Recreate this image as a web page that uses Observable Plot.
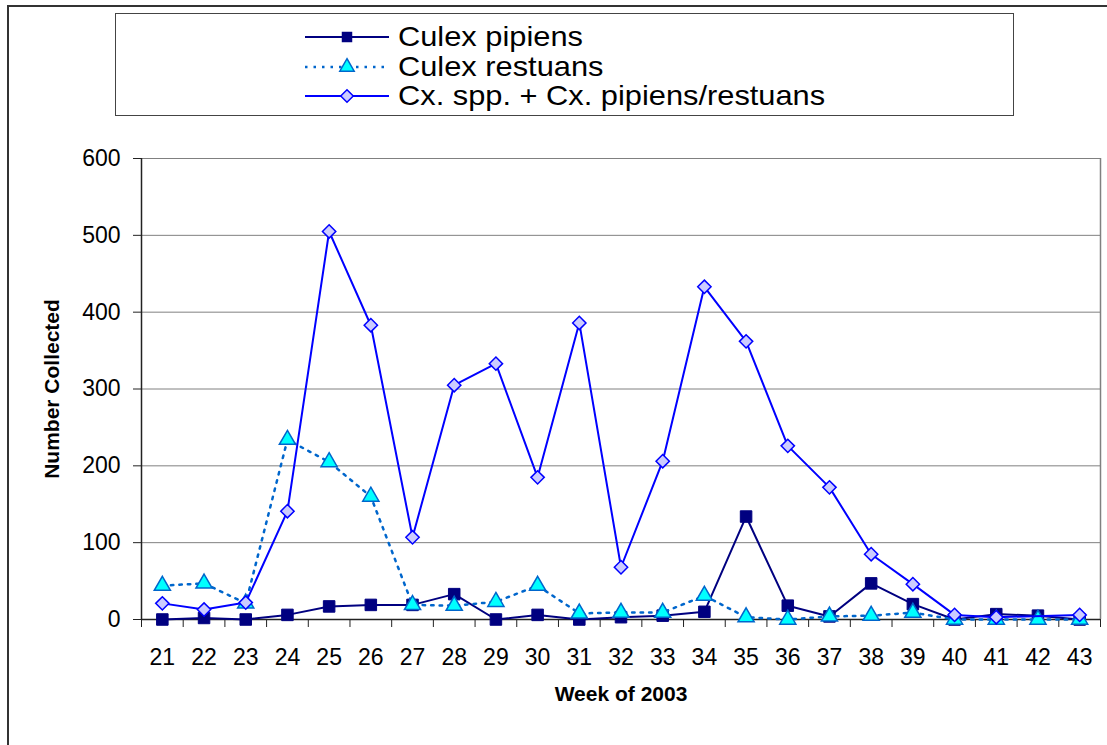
<!DOCTYPE html>
<html><head><meta charset="utf-8">
<script src="https://cdn.jsdelivr.net/npm/d3@7"></script>
<script src="https://cdn.jsdelivr.net/npm/@observablehq/plot@0.6"></script>
<style>
body{margin:0;background:#fff;font-family:"Liberation Sans",Arial,sans-serif;}
#wrap{position:relative;width:1107px;height:745px;overflow:hidden;background:#fff;}
#frame{position:absolute;left:7px;top:5px;width:1200px;height:900px;border-left:2px solid #333;border-top:2px solid #333;}
#chart{position:absolute;left:0;top:0;}
#legend{position:absolute;left:115px;top:13px;width:897px;height:101px;border:1px solid #444;background:#fff;}
.row{position:absolute;left:189px;height:28px;display:flex;align-items:center;color:#000;white-space:nowrap;}
.row svg{margin-right:9px;flex:none;}
.row span{font-size:28px;line-height:1;display:inline-block;transform:scaleX(1.1);transform-origin:left center;}
</style></head>
<body><div id="wrap"><div id="frame"></div><div id="chart"></div><div id="legend"></div></div>
<script>
const weeks = [21,22,23,24,25,26,27,28,29,30,31,32,33,34,35,36,37,38,39,40,41,42,43];
const pipiens = [0,2,0,6,17,19,19,33,0,6,0,3,5,10,134,18,4,47,20,0,7,5,0];
const restuans = [44,47,21,234,205,160,19,18,23,44,8,9,9,31,3,0,4,5,9,0,0,0,0];
const cxspp = [21,13,22,141,505,383,107,305,333,185,386,68,206,433,362,226,172,85,46,6,3,null,6];
const yTicks = [0,100,200,300,400,500,600];
const seriesNames = ["Culex pipiens","Culex restuans","Cx. spp. + Cx. pipiens/restuans"];

const data = weeks.map((w,i)=>({week:w, pipiens:pipiens[i], restuans:restuans[i], cxspp:cxspp[i]}));
const bounds = weeks.map(w=>w-0.5).concat([weeks[weeks.length-1]+0.5]);

const chart = Plot.plot({
  width:1107, height:745,
  marginLeft:141, marginRight:7, marginTop:158, marginBottom:126,
  x:{domain:[bounds[0], bounds[bounds.length-1]]},
  y:{domain:[0,600]},
  style:{fontFamily:"'Liberation Sans', Arial, sans-serif", background:"transparent", color:"#000", overflow:"visible"},
  marks:[
    Plot.gridY(yTicks.filter(t=>t>0), {stroke:"#808080", strokeOpacity:1, strokeWidth:1}),
    Plot.ruleX([bounds[bounds.length-1]], {stroke:"#808080", strokeWidth:1.5}),
    Plot.axisY(yTicks, {tickSize:8, tickPadding:13, fontSize:23, label:null, stroke:"#222"}),
    Plot.axisX(bounds, {tickSize:8, tickFormat:()=>"", label:null, stroke:"#222"}),
    Plot.axisX(weeks, {tickSize:0, tickPadding:29, fontSize:23, label:null, tickFormat:d=>String(d)}),
    Plot.ruleX([bounds[0]], {stroke:"#222", strokeWidth:1.5}),
    Plot.ruleY([0], {stroke:"#222", strokeWidth:1.5}),
    Plot.line(data, {x:"week", y:"pipiens", stroke:"#000080", strokeWidth:2}),
    Plot.dot(data, {x:"week", y:"pipiens", symbol:"square", r:6.5, fill:"#000080", stroke:"#000080", strokeWidth:1}),
    Plot.line(data, {x:"week", y:"restuans", stroke:"#0066CC", strokeWidth:2.5, strokeDasharray:"2.5,6"}),
    Plot.dot(data, {x:"week", y:"restuans", symbol:"triangle", r:6, fill:"#00FFFF", stroke:"#0066CC", strokeWidth:1.5}),
    Plot.line(data.filter(d=>d.cxspp!=null), {x:"week", y:"cxspp", stroke:"#0000FF", strokeWidth:2}),
    Plot.dot(data.filter(d=>d.cxspp!=null), {x:"week", y:"cxspp", symbol:"diamond2", r:6, fill:"#CCCCFF", stroke:"#0000FF", strokeWidth:1.5}),
    Plot.text(["Number Collected"], {frameAnchor:"left", textAnchor:"middle", rotate:-90, dx:-89, fontSize:21, fontWeight:"bold", fill:"#000"}),
    Plot.text(["Week of 2003"], {frameAnchor:"bottom", textAnchor:"middle", dy:81, fontSize:21, fontWeight:"bold", fill:"#000"})
  ]
});
document.getElementById("chart").appendChild(chart);

// Legend
const legend = document.getElementById("legend");
const rowTops = [9, 38.5, 68];
const ns = "http://www.w3.org/2000/svg";
function sample(i){
  const svg = document.createElementNS(ns,"svg");
  svg.setAttribute("width",84); svg.setAttribute("height",28);
  const line = document.createElementNS(ns,"line");
  line.setAttribute("x1",0); line.setAttribute("x2",84); line.setAttribute("y1",14); line.setAttribute("y2",14);
  const sym = document.createElementNS(ns,"path");
  sym.setAttribute("transform","translate(42,14)");
  if(i===0){
    line.setAttribute("stroke","#000080"); line.setAttribute("stroke-width",2);
    sym.setAttribute("d", d3.symbol(d3.symbolSquare, 110)());
    sym.setAttribute("fill","#000080");
  } else if(i===1){
    line.setAttribute("stroke","#0066CC"); line.setAttribute("stroke-width",2.5); line.setAttribute("stroke-dasharray","2.5,6");
    sym.setAttribute("d", d3.symbol(d3.symbolTriangle, 90)());
    sym.setAttribute("fill","#00FFFF"); sym.setAttribute("stroke","#0066CC"); sym.setAttribute("stroke-width",1.5);
  } else {
    line.setAttribute("stroke","#0000FF"); line.setAttribute("stroke-width",2);
    sym.setAttribute("d", d3.symbol(d3.symbolDiamond2, 100)());
    sym.setAttribute("fill","#CCCCFF"); sym.setAttribute("stroke","#0000FF"); sym.setAttribute("stroke-width",1.5);
  }
  svg.appendChild(line); svg.appendChild(sym);
  return svg;
}
seriesNames.forEach((name,i)=>{
  const row = document.createElement("div");
  row.className="row"; row.style.top = rowTops[i]+"px";
  row.appendChild(sample(i));
  const span = document.createElement("span"); span.textContent = name;
  row.appendChild(span);
  legend.appendChild(row);
});
</script>
</body></html>
